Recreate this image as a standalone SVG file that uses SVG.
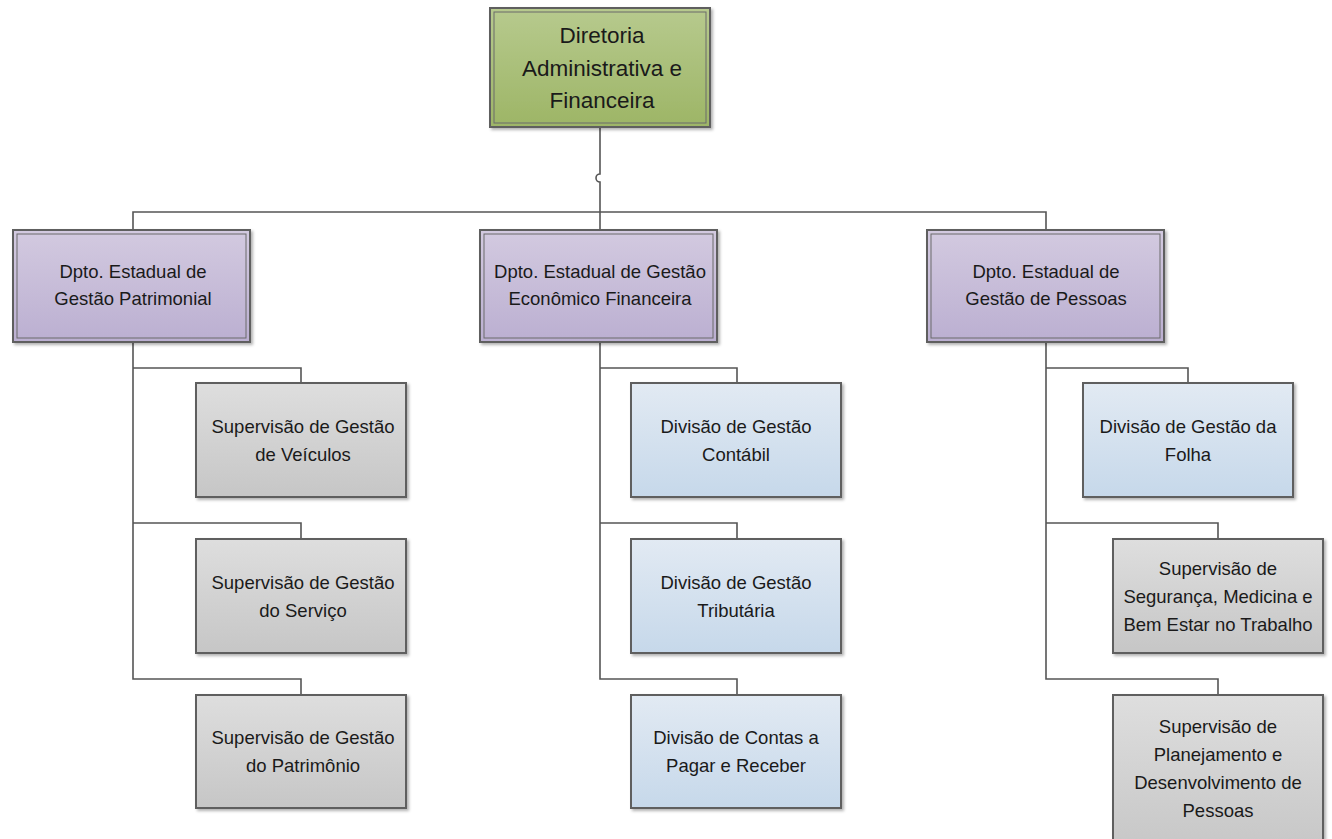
<svg xmlns="http://www.w3.org/2000/svg" width="1332" height="839" viewBox="0 0 1332 839">
<defs>
<linearGradient id="gGreen" x1="0" y1="0" x2="0" y2="1"><stop offset="0" stop-color="#b7ca8e"/><stop offset="1" stop-color="#9db566"/></linearGradient>
<linearGradient id="gPurple" x1="0" y1="0" x2="0" y2="1"><stop offset="0" stop-color="#d3cae0"/><stop offset="1" stop-color="#bbafd1"/></linearGradient>
<linearGradient id="gGray" x1="0" y1="0" x2="0" y2="1"><stop offset="0" stop-color="#dedede"/><stop offset="1" stop-color="#c6c6c6"/></linearGradient>
<linearGradient id="gBlue" x1="0" y1="0" x2="0" y2="1"><stop offset="0" stop-color="#e2eaf3"/><stop offset="1" stop-color="#c6d8ea"/></linearGradient>
<filter id="sh" x="-5%" y="-5%" width="115%" height="120%"><feDropShadow dx="2" dy="2" stdDeviation="1.5" flood-color="#000" flood-opacity="0.3"/></filter>
</defs>
<style>
.conn{fill:none;stroke:#555;stroke-width:1.6}
.box{stroke:#5f5f5f;stroke-width:2;filter:url(#sh)}
.inner{fill:none;stroke:#6a6a6a;stroke-width:1}
text{font-family:"Liberation Sans","Open Sans",sans-serif;fill:#1a1a1a;text-anchor:middle}
.t1{font-size:22.5px}
.t2{font-size:18.5px}
</style>
<rect width="1332" height="839" fill="#fff"/>
<g id="connectors">
<path class="conn" d="M600 127 V174 A4 4 0 0 0 600 182 V212"/>
<path class="conn" d="M133 230 V212 H1046 V230"/>
<path class="conn" d="M600 212 V230"/>
<path class="conn" d="M133 342 V679 H301 V695 M133 368 H301 V383 M133 523 H301 V539"/>
<path class="conn" d="M600 342 V679 H737 V695 M600 368 H737 V383 M600 523 H737 V539"/>
<path class="conn" d="M1046 342 V679 H1218 V695 M1046 368 H1188 V383 M1046 523 H1218 V539"/>
</g>
<g id="n-diretoria">
<rect class="box" x="490" y="8" width="220" height="119" fill="url(#gGreen)"/>
<rect class="inner" x="494" y="12" width="212" height="111"/>
<text class="t1" x="602" y="43">Diretoria</text>
<text class="t1" x="602" y="76">Administrativa e</text>
<text class="t1" x="602" y="108">Financeira</text>
</g>
<g id="n-patrimonial">
<rect class="box" x="13" y="230" width="237" height="112" fill="url(#gPurple)"/>
<rect class="inner" x="17" y="234" width="229" height="104"/>
<text class="t2" x="133" y="278">Dpto. Estadual de</text>
<text class="t2" x="133" y="305">Gestão Patrimonial</text>
</g>
<g id="n-economico">
<rect class="box" x="480" y="230" width="237" height="112" fill="url(#gPurple)"/>
<rect class="inner" x="484" y="234" width="229" height="104"/>
<text class="t2" x="600" y="278">Dpto. Estadual de Gestão</text>
<text class="t2" x="600" y="305">Econômico Financeira</text>
</g>
<g id="n-pessoas">
<rect class="box" x="927" y="230" width="237" height="112" fill="url(#gPurple)"/>
<rect class="inner" x="931" y="234" width="229" height="104"/>
<text class="t2" x="1046" y="278">Dpto. Estadual de</text>
<text class="t2" x="1046" y="305">Gestão de Pessoas</text>
</g>
<g id="n-veiculos">
<rect class="box" x="196" y="383" width="210" height="114" fill="url(#gGray)"/>
<text class="t2" x="303" y="433">Supervisão de Gestão</text>
<text class="t2" x="303" y="461">de Veículos</text>
</g>
<g id="n-servico">
<rect class="box" x="196" y="539" width="210" height="114" fill="url(#gGray)"/>
<text class="t2" x="303" y="589">Supervisão de Gestão</text>
<text class="t2" x="303" y="617">do Serviço</text>
</g>
<g id="n-patrimonio">
<rect class="box" x="196" y="695" width="210" height="113" fill="url(#gGray)"/>
<text class="t2" x="303" y="744">Supervisão de Gestão</text>
<text class="t2" x="303" y="772">do Patrimônio</text>
</g>
<g id="n-contabil">
<rect class="box" x="631" y="383" width="210" height="114" fill="url(#gBlue)"/>
<text class="t2" x="736" y="433">Divisão de Gestão</text>
<text class="t2" x="736" y="461">Contábil</text>
</g>
<g id="n-tributaria">
<rect class="box" x="631" y="539" width="210" height="114" fill="url(#gBlue)"/>
<text class="t2" x="736" y="589">Divisão de Gestão</text>
<text class="t2" x="736" y="617">Tributária</text>
</g>
<g id="n-contas">
<rect class="box" x="631" y="695" width="210" height="113" fill="url(#gBlue)"/>
<text class="t2" x="736" y="744">Divisão de Contas a</text>
<text class="t2" x="736" y="772">Pagar e Receber</text>
</g>
<g id="n-folha">
<rect class="box" x="1083" y="383" width="210" height="114" fill="url(#gBlue)"/>
<text class="t2" x="1188" y="433">Divisão de Gestão da</text>
<text class="t2" x="1188" y="461">Folha</text>
</g>
<g id="n-seguranca">
<rect class="box" x="1113" y="539" width="210" height="114" fill="url(#gGray)"/>
<text class="t2" x="1218" y="575">Supervisão de</text>
<text class="t2" x="1218" y="603">Segurança, Medicina e</text>
<text class="t2" x="1218" y="631">Bem Estar no Trabalho</text>
</g>
<g id="n-planejamento">
<rect class="box" x="1113" y="695" width="210" height="160" fill="url(#gGray)"/>
<text class="t2" x="1218" y="733">Supervisão de</text>
<text class="t2" x="1218" y="761">Planejamento e</text>
<text class="t2" x="1218" y="789">Desenvolvimento de</text>
<text class="t2" x="1218" y="817">Pessoas</text>
</g>
</svg>
